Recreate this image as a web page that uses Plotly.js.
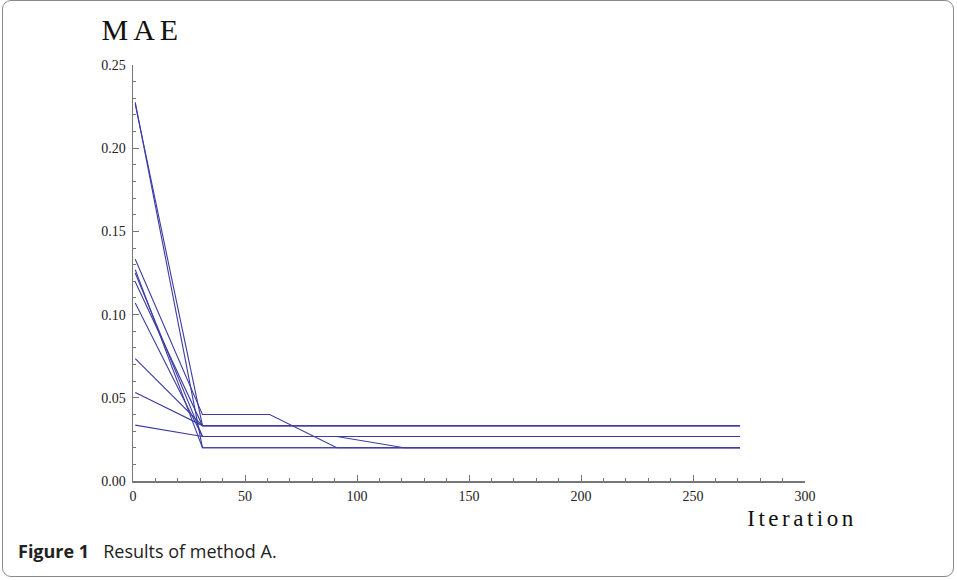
<!DOCTYPE html>
<html>
<head>
<meta charset="utf-8">
<script src="https://cdn.plot.ly/plotly-3.0.1.min.js"></script>
<style>
  html, body { margin: 0; padding: 0; background: #fff; }
  #frame { position: absolute; left: 2px; top: 0px; width: 952px; height: 577px;
           border: 1.5px solid #8a8a8a; border-radius: 9px; box-sizing: border-box; }
  #chart { position: absolute; left: 0; top: 0; width: 957px; height: 580px; }
</style>
</head>
<body>
<div id="frame"></div>
<div id="chart"></div>
<script>
// Iteration values (x)
const iterations = [1, 31, 61, 91, 121, 151, 181, 211, 241, 271];

// MAE series, one per run
const run1  = [0.2275, 0.0200, 0.0200, 0.0200, 0.0200, 0.0200, 0.0200, 0.0200, 0.0200, 0.0200];
const run2  = [0.2265, 0.0333, 0.0333, 0.0333, 0.0333, 0.0333, 0.0333, 0.0333, 0.0333, 0.0333];
const run3  = [0.1333, 0.0400, 0.0400, 0.0200, 0.0200, 0.0200, 0.0200, 0.0200, 0.0200, 0.0200];
const run4  = [0.1270, 0.0200, 0.0200, 0.0200, 0.0200, 0.0200, 0.0200, 0.0200, 0.0200, 0.0200];
const run5  = [0.1250, 0.0267, 0.0267, 0.0267, 0.0267, 0.0267, 0.0267, 0.0267, 0.0267, 0.0267];
const run6  = [0.1197, 0.0333, 0.0333, 0.0333, 0.0333, 0.0333, 0.0333, 0.0333, 0.0333, 0.0333];
const run7  = [0.1070, 0.0267, 0.0267, 0.0267, 0.0267, 0.0267, 0.0267, 0.0267, 0.0267, 0.0267];
const run8  = [0.0736, 0.0333, 0.0333, 0.0333, 0.0333, 0.0333, 0.0333, 0.0333, 0.0333, 0.0333];
const run9  = [0.0532, 0.0333, 0.0333, 0.0333, 0.0333, 0.0333, 0.0333, 0.0333, 0.0333, 0.0333];
const run10 = [0.0336, 0.0267, 0.0267, 0.0267, 0.0200, 0.0200, 0.0200, 0.0200, 0.0200, 0.0200];

const runs = [run1, run2, run3, run4, run5, run6, run7, run8, run9, run10];

// Tick labels
const xTickVals = [0, 50, 100, 150, 200, 250, 300];
const xTickText = ['0', '50', '100', '150', '200', '250', '300'];
const yTickVals = [0, 0.05, 0.10, 0.15, 0.20, 0.25];
const yTickText = ['0.00', '0.05', '0.10', '0.15', '0.20', '0.25'];
const xMinorVals = [10,20,30,40,60,70,80,90,110,120,130,140,160,170,180,190,210,220,230,240,260,270,280,290];
const yMinorVals = [0.01,0.02,0.03,0.04,0.06,0.07,0.08,0.09,0.11,0.12,0.13,0.14,0.16,0.17,0.18,0.19,0.21,0.22,0.23,0.24];

const yLabel = 'MAE';
const xLabel = 'Iteration';
const captionBold = 'Figure 1';
const captionText = 'Results of method A.';

const lineColor = 'rgb(60,60,162)';
const axisColor = '#777777';
const serif = 'Liberation Serif, Times New Roman, serif';

const traces = runs.map(v => ({
  x: iterations, y: v, type: 'scatter', mode: 'lines',
  line: { color: lineColor, width: 1.1 }, hoverinfo: 'skip', showlegend: false
}));

const axisCommon = {
  showgrid: false, zeroline: false, showline: true,
  linecolor: axisColor, linewidth: 1.5,
  ticks: 'inside', tickcolor: axisColor, tickwidth: 1, ticklen: 6,
  tickfont: { family: serif, size: 14, color: '#222' },
  tickmode: 'array', fixedrange: true
};

const layout = {
  width: 957, height: 580,
  margin: { l: 133, r: 152, t: 65, b: 99 },
  paper_bgcolor: 'rgba(0,0,0,0)', plot_bgcolor: 'rgba(0,0,0,0)',
  xaxis: Object.assign({}, axisCommon, {
    range: [0, 300], tickvals: xTickVals, ticktext: xTickText, ticklabelstandoff: 2,
    minor: { ticks: 'inside', tickvals: xMinorVals, ticklen: 3, tickcolor: axisColor, tickwidth: 1 }
  }),
  yaxis: Object.assign({}, axisCommon, {
    range: [0, 0.25], tickvals: yTickVals, ticktext: yTickText, ticklabelstandoff: 3,
    minor: { ticks: 'inside', tickvals: yMinorVals, ticklen: 3, tickcolor: axisColor, tickwidth: 1 }
  }),
  annotations: [
    { text: yLabel, xref: 'paper', yref: 'paper', x: 0.0145, y: 1.0, yshift: 36,
      xanchor: 'center', yanchor: 'middle', showarrow: false,
      font: { family: serif, size: 30, color: '#111' } },
    { text: xLabel, xref: 'paper', yref: 'paper', x: 0.9955, y: 0, yshift: -37,
      xanchor: 'center', yanchor: 'middle', showarrow: false,
      font: { family: serif, size: 23, color: '#111' } },
    { text: '<b>' + captionBold + '</b>\u00a0\u00a0 ' + captionText, xref: 'paper', yref: 'paper',
      x: -0.174, y: 0, yshift: -70, xanchor: 'left', yanchor: 'middle', showarrow: false,
      font: { family: 'Open Sans, Noto Sans, sans-serif', size: 18, color: '#222' } }
  ]
};

Plotly.newPlot('chart', traces, layout, { staticPlot: true }).then(() => {
  const t = document.querySelectorAll('.annotation-text');
  if (t[0]) t[0].style.letterSpacing = '5px';
  if (t[1]) t[1].style.letterSpacing = '3.5px';
});
</script>
</body>
</html>
